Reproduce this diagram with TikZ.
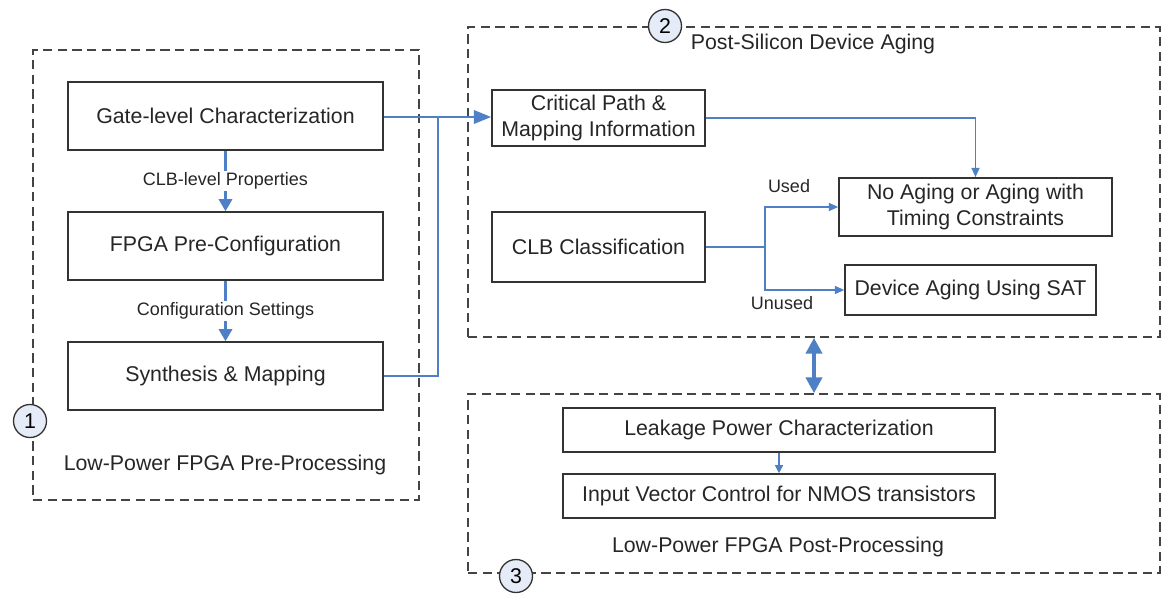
\documentclass[tikz,border=0pt]{standalone}
\usepackage{fontspec}
\setmainfont{Liberation Sans}
\usetikzlibrary{arrows.meta}
\definecolor{lineblue}{HTML}{4F7FC4}
\definecolor{boxgray}{HTML}{333333}
\definecolor{dashgray}{HTML}{444444}
\definecolor{circfill}{HTML}{E6ECF7}
\def\px{0.75pt}
\tikzset{
  box/.style={draw=boxgray, line width=1.2pt, fill=white, inner sep=2pt, align=center, font=\fontsize{16}{19}\selectfont, text=black!85},
  group/.style={draw=dashgray, line width=1.1pt, dash pattern=on 7pt off 4pt},
  numcirc/.style={circle, draw=boxgray, line width=1pt, fill=circfill, minimum size=33*\px, inner sep=0pt, font=\fontsize{16}{19}\selectfont},
  title/.style={font=\fontsize{16}{19}\selectfont, text=black!85},
  lab/.style={font=\fontsize{13.5}{16}\selectfont, text=black!85},
  conn/.style={draw=lineblue, line width=1pt},
  arr/.style={conn, -{Triangle[length=9pt,width=9pt]}},
  sarr/.style={conn, -{Triangle[length=7pt,width=6pt]}},
  varr/.style={draw=lineblue, line width=1.6pt, -{Triangle[length=9pt,width=10pt]}},
}
\begin{document}
\begin{tikzpicture}[x=0.75pt, y=-0.75pt]
\useasboundingbox (0,0) rectangle (1163,599);
% groups
\node[group, minimum width=386*\px, minimum height=450*\px] (g1) at (226,275) {};
\node[group, minimum width=692*\px, minimum height=310*\px] (g2) at (814,182) {};
\node[group, minimum width=692*\px, minimum height=179*\px] (g3) at (814,483.5) {};
% group 1 boxes
\node[box, minimum width=315*\px, minimum height=68*\px] (gate) at (225.5,116) {Gate-level Characterization};
\node[box, minimum width=315*\px, minimum height=68*\px] (pre) at (225.5,246) {FPGA Pre-Configuration};
\node[box, minimum width=315*\px, minimum height=68*\px] (syn) at (225.5,376) {Synthesis \& Mapping};
\node[title] (t1) at (225,465) {Low-Power FPGA Pre-Processing};
% group 2 boxes
\node[box, minimum width=213*\px, minimum height=56*\px] (crit) at (598.5,118) {Critical Path \&\\Mapping Information};
\node[box, minimum width=213*\px, minimum height=70*\px] (clb) at (598.5,247) {CLB Classification};
\node[box, minimum width=273*\px, minimum height=58*\px] (noage) at (975.5,207) {No Aging or Aging with\\Timing Constraints};
\node[box, minimum width=251*\px, minimum height=50*\px] (sat) at (970.5,290) {Device Aging Using SAT};
\node[title] (t2) at (813,44) {Post-Silicon Device Aging};
% group 3 boxes
\node[box, minimum width=432*\px, minimum height=44*\px] (leak) at (779,430) {Leakage Power Characterization};
\node[box, minimum width=432*\px, minimum height=44*\px] (ivc) at (779,496) {Input Vector Control for NMOS transistors};
\node[title] (t3) at (778,547) {Low-Power FPGA Post-Processing};
% circles
\node[numcirc] (c1) at (30,421) {1};
\node[numcirc] (c2) at (665,26) {2};
\node[numcirc] (c3) at (516,576) {3};
% connectors group 1
\draw[varr] (gate.south) -- (pre.north) node[midway, fill=white, lab, inner sep=1pt] {CLB-level Properties};
\draw[varr] (pre.south) -- (syn.north) node[midway, fill=white, lab, inner sep=1pt] {Configuration Settings};
% to critical path
\coordinate (j) at (438,117);
\draw[conn] (syn.east) -| (j);
\draw[conn, line width=1.8pt, -{Triangle[length=13pt,width=10pt]}] (gate.east |- j) -- (crit.west |- j);
% group 2
\draw[sarr] (crit.east) -| (noage.north);
\coordinate (k) at (765,247);
\draw[conn] (clb.east) -- (k);
\draw[sarr] (k) |- (noage.west);
\draw[sarr] (k) |- (sat.west);
\node[lab] (used) at (789,186) {Used};
\node[lab] (unused) at (782,303) {Unused};
% group 3
\draw[conn, -{Triangle[length=6pt,width=6pt]}] (leak.south) -- (ivc.north);
% double arrow
\draw[draw=lineblue, line width=3pt, {Triangle[length=12pt,width=12pt]}-{Triangle[length=12pt,width=12pt]}] (g2.south) -- (g3.north);
\end{tikzpicture}
\end{document}
